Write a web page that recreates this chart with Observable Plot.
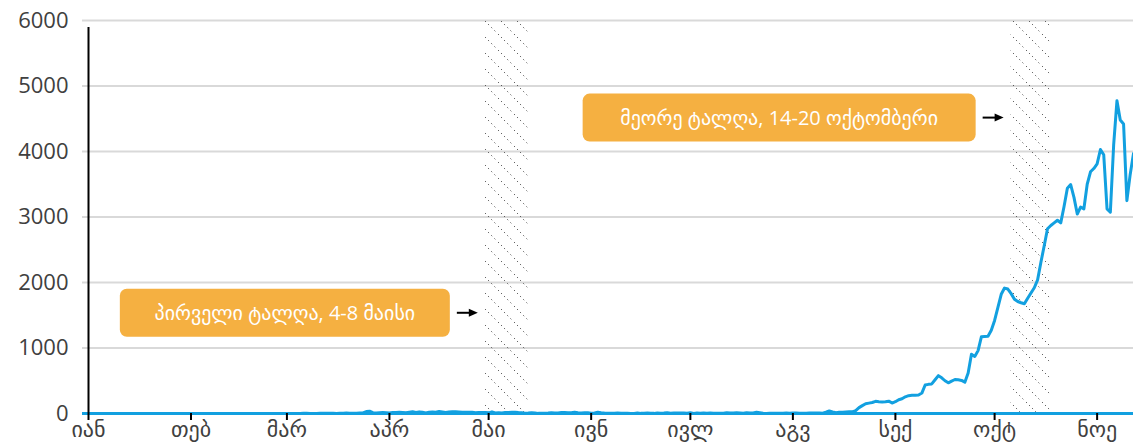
<!DOCTYPE html>
<html><head><meta charset="utf-8">
<script src="https://cdn.jsdelivr.net/npm/d3@7"></script>
<script src="https://cdn.jsdelivr.net/npm/@observablehq/plot@0.6"></script>
<style>
html,body{margin:0;padding:0;background:#fff;}
#chart{width:1133px;height:448px;overflow:hidden;}
</style></head><body><div id="chart"></div>
<script>
// ---- data ----
const monthLabels = ["იან","თებ","მარ","აპრ","მაი","ივნ","ივლ","აგვ","სექ","ოქტ","ნოე"];
const monthStarts = ["2020-01-01","2020-02-01","2020-03-01","2020-04-01","2020-05-01","2020-06-01","2020-07-01","2020-08-01","2020-09-01","2020-10-01","2020-11-01"];
const yTicks = [0,1000,2000,3000,4000,5000,6000];
const leadDates = ["2020-01-01","2020-02-25"];
const leadValues = [0,0];
const seriesStart = "2020-02-26";
const dailyCases = [
  // Feb 26-29
  1,0,1,0,
  // Mar
  0,1,0,0,0,4,2,0,1,0,2,2,5,3,3,0,4,3,6,5,5,4,6,8,30,35,12,8,12,15,12,
  // Apr
  7,16,15,19,17,12,20,26,14,25,18,8,20,24,20,30,22,14,22,26,28,24,20,18,20,19,10,15,14,16,
  // May
  10,25,8,13,7,14,15,18,18,14,12,5,6,13,7,2,3,4,6,11,6,8,15,14,12,11,20,12,8,11,10,
  // Jun
  4,9,18,10,6,4,3,5,8,4,3,2,1,0,8,2,5,8,4,2,7,5,7,13,5,7,7,6,8,3,
  // Jul
  11,1,6,4,8,3,6,3,4,4,3,12,7,6,10,8,4,13,6,7,18,12,5,1,3,4,4,2,4,6,3,
  // Aug
  7,6,5,5,3,6,6,6,8,5,20,40,25,12,18,20,22,25,25,45,90,120,148,158,168,186,180,177,178,188,160,
  // Sep
  180,210,225,255,272,278,280,283,312,435,445,452,515,578,545,500,468,495,519,515,505,478,620,905,870,960,1170,1175,1178,1270,
  // Oct
  1420,1620,1820,1915,1900,1830,1745,1710,1690,1675,1760,1840,1920,2040,2310,2560,2820,2870,2910,2950,2910,3160,3440,3495,3300,3045,3150,3125,3500,3690,3740,
  // Nov 1-12
  3810,4030,3950,3124,3072,4100,4776,4480,4420,3250,3650,3970
];
const bandStarts = ["2020-04-30","2020-10-06"];
const bandEnds = ["2020-05-13","2020-10-18"];
const noteTexts = ["პირველი ტალღა, 4-8 მაისი","მეორე ტალღა, 14-20 ოქტომბერი"];
const noteValues = [1530, 4510];
const xDomainStart = "2020-01-01";
const xDomainEnd = "2020-11-12";

// ---- build tables ----
const parse = s => new Date(s + "T00:00:00Z");
const DAY = 864e5;
const series = leadDates.map((d,i)=>({date: parse(d), value: leadValues[i]}))
  .concat(dailyCases.map((v,i)=>({date: new Date(+parse(seriesStart) + i*DAY), value: v})));
const bands = bandStarts.map((s,i)=>({start: parse(s), end: parse(bandEnds[i])}));
const tickDates = monthStarts.map(parse);
const labelMap = new Map(tickDates.map((d,i)=>[+d, monthLabels[i]]));

const BLUE = "#12a0e0";
const FONT = "'Open Sans', 'DejaVu Sans', sans-serif";

const plot = Plot.plot({
  width: 1133, height: 448,
  marginLeft: 88, marginRight: 0, marginTop: 20, marginBottom: 35,
  style: {fontFamily: FONT, background: "#fff", overflow: "visible"},
  x: {type: "utc", domain: [parse(xDomainStart), parse(xDomainEnd)], label: null},
  y: {domain: [0, 6000], label: null},
  marks: [
    Plot.ruleY(yTicks.filter(d => d > 0), {stroke: "#d9d9d9", strokeWidth: 2, insetLeft: -6}),
    Plot.rect(bands, {x1: "start", x2: "end", y1: 0, y2: 6000, fill: "url(#hatch)"}),
    Plot.ruleY([0], {stroke: BLUE, strokeWidth: 3, insetLeft: -6}),
    Plot.line(series, {x: "date", y: "value", stroke: BLUE, strokeWidth: 3, strokeLinejoin: "round"}),
    Plot.ruleX([parse(xDomainStart)], {y1: 0, y2: 6000, stroke: "#000", strokeWidth: 2, insetBottom: -7}),
    Plot.axisX(tickDates, {anchor: "bottom", label: null, tickSize: 7, tickPadding: 1, stroke: "#000", strokeWidth: 2,
      fontSize: 22, fill: "#404040", tickFormat: d => labelMap.get(+d)}),
    Plot.axisY(yTicks, {anchor: "left", label: null, tickSize: 0, tickPadding: 20, fontSize: 22, fill: "#404040",
      tickFormat: d => String(d)})
  ]
});

const svg = d3.select(plot);
const defs = svg.insert("defs", ":first-child");
const pat = defs.append("pattern").attr("id", "hatch")
  .attr("patternUnits", "userSpaceOnUse").attr("width", 16).attr("height", 16);
pat.append("line").attr("x1", -1).attr("y1", -1).attr("x2", 17).attr("y2", 17)
  .attr("stroke", "#222").attr("stroke-width", 1).attr("stroke-dasharray", "1 3.4");

const xs = plot.scale("x"), ys = plot.scale("y");
const boxW = [330, 393], boxH = 48;
const g = svg.append("g");
noteTexts.forEach((t, i) => {
  const bx = xs.apply(bands[i].start);
  const right = bx - 35;
  const cy = ys.apply(noteValues[i]);
  g.append("rect").attr("x", right - boxW[i]).attr("y", cy - boxH/2)
    .attr("width", boxW[i]).attr("height", boxH).attr("rx", 7).attr("fill", "#f5b041");
  g.append("text").attr("x", right - boxW[i]/2).attr("y", cy)
    .attr("text-anchor", "middle").attr("dominant-baseline", "central")
    .attr("fill", "#fff").attr("font-size", 20).attr("font-family", FONT).text(t);
  const x0 = right + 7, tip = right + 28;
  g.append("line").attr("x1", x0).attr("x2", tip - 6).attr("y1", cy).attr("y2", cy)
    .attr("stroke", "#000").attr("stroke-width", 2);
  g.append("path").attr("d", `M${tip},${cy}L${tip-9},${cy-4}L${tip-9},${cy+4}Z`).attr("fill", "#000");
});

document.getElementById("chart").appendChild(plot);
</script>
</body></html>
